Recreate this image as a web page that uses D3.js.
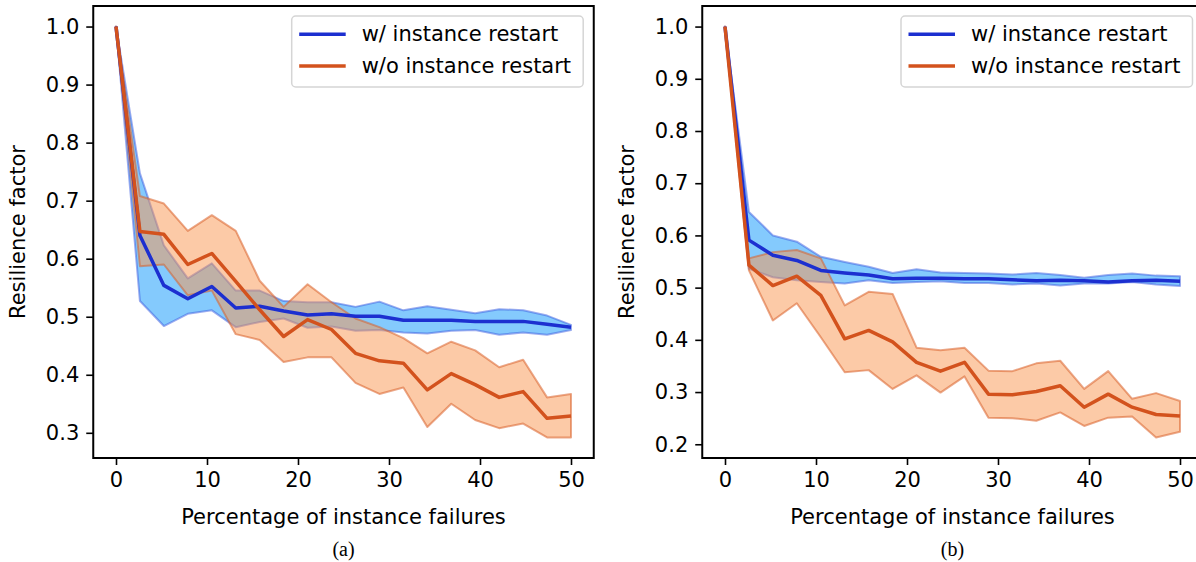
<!DOCTYPE html>
<html>
<head>
<meta charset="utf-8">
<script src="https://cdn.jsdelivr.net/npm/d3@7"></script>
<style>
  html, body { margin: 0; padding: 0; background: #fff; }
  svg { display: block; }
  text { font-family: "DejaVu Sans", sans-serif; fill: #000; }
</style>
</head>
<body>
<svg id="chart" width="1196" height="562"></svg>
<script>
// ---------- data ----------
const failurePct = [0, 2.63, 5.26, 7.89, 10.53, 13.16, 15.79, 18.42, 21.05, 23.68,
                    26.32, 28.95, 31.58, 34.21, 36.84, 39.47, 42.11, 44.74, 47.37, 50];

const seriesNames = ["w/ instance restart", "w/o instance restart"];
const xTicks = [0, 10, 20, 30, 40, 50];
const yTicksA = [0.3, 0.4, 0.5, 0.6, 0.7, 0.8, 0.9, 1.0];
const yTicksB = [0.2, 0.3, 0.4, 0.5, 0.6, 0.7, 0.8, 0.9, 1.0];
const captions = ["(a)", "(b)"];
const xLabel = "Percentage of instance failures";
const yLabel = "Resilience factor";

// panel (a)
const restartMeanA  = [1.0, 0.640, 0.554, 0.531, 0.552, 0.515, 0.518, 0.510, 0.503, 0.505, 0.501, 0.501, 0.494, 0.494, 0.494, 0.492, 0.492, 0.492, 0.487, 0.482];
const restartUpperA = [1.0, 0.747, 0.623, 0.566, 0.592, 0.545, 0.545, 0.527, 0.525, 0.525, 0.517, 0.526, 0.511, 0.518, 0.512, 0.506, 0.513, 0.511, 0.502, 0.486];
const restartLowerA = [1.0, 0.527, 0.484, 0.505, 0.511, 0.482, 0.491, 0.497, 0.481, 0.483, 0.476, 0.477, 0.473, 0.471, 0.476, 0.477, 0.469, 0.473, 0.469, 0.477];
const noRestartMeanA  = [1.0, 0.647, 0.642, 0.590, 0.609, 0.561, 0.512, 0.466, 0.495, 0.478, 0.437, 0.424, 0.420, 0.374, 0.402, 0.383, 0.361, 0.371, 0.325, 0.329];
const noRestartUpperA = [1.0, 0.708, 0.695, 0.648, 0.675, 0.648, 0.562, 0.517, 0.556, 0.525, 0.497, 0.482, 0.463, 0.437, 0.457, 0.442, 0.413, 0.426, 0.361, 0.367];
const noRestartLowerA = [1.0, 0.587, 0.590, 0.537, 0.545, 0.470, 0.460, 0.422, 0.430, 0.430, 0.386, 0.367, 0.378, 0.310, 0.350, 0.322, 0.308, 0.316, 0.292, 0.292];

// panel (b)
const restartMeanB  = [1.0, 0.591, 0.562, 0.552, 0.533, 0.528, 0.524, 0.517, 0.518, 0.518, 0.517, 0.517, 0.515, 0.513, 0.514, 0.513, 0.511, 0.513, 0.514, 0.512];
const restartUpperB = [1.0, 0.645, 0.600, 0.588, 0.559, 0.549, 0.540, 0.528, 0.535, 0.529, 0.528, 0.527, 0.525, 0.528, 0.524, 0.519, 0.524, 0.527, 0.523, 0.522];
const restartLowerB = [1.0, 0.536, 0.520, 0.514, 0.511, 0.508, 0.514, 0.509, 0.511, 0.512, 0.509, 0.509, 0.506, 0.508, 0.504, 0.508, 0.508, 0.511, 0.506, 0.503];
const noRestartMeanB  = [1.0, 0.543, 0.504, 0.522, 0.485, 0.402, 0.418, 0.396, 0.357, 0.340, 0.357, 0.296, 0.295, 0.301, 0.312, 0.271, 0.296, 0.271, 0.257, 0.254];
const noRestartUpperB = [1.0, 0.556, 0.568, 0.572, 0.556, 0.466, 0.492, 0.488, 0.385, 0.380, 0.385, 0.341, 0.340, 0.355, 0.360, 0.306, 0.340, 0.287, 0.298, 0.283];
const noRestartLowerB = [1.0, 0.533, 0.437, 0.470, 0.405, 0.338, 0.342, 0.306, 0.332, 0.299, 0.330, 0.251, 0.250, 0.245, 0.261, 0.235, 0.251, 0.253, 0.213, 0.224];

// ---------- styles ----------
const blueLine = "#1c2fd0", blueFill = "#84cafd", blueEdge = "#3a5ae0";
const orangeLine = "#d3521d", orangeFill = "rgb(250,150,80)", orangeEdge = "#d9602a";

const svg = d3.select("#chart");
const plotTop = 6, plotBottom = 458;

const panels = [
  { left: 93.25, right: 593.75, yDomain: [0.2566, 1.0354], yTicks: yTicksA, legendLeft: 291.7, caption: captions[0], yLabelX: 18,
    rMean: restartMeanA, rUp: restartUpperA, rLo: restartLowerA, nMean: noRestartMeanA, nUp: noRestartUpperA, nLo: noRestartLowerA },
  { left: 702.25, right: 1202.75, yDomain: [0.1737, 1.0394], yTicks: yTicksB, legendLeft: 901, caption: captions[1], yLabelX: 627,
    rMean: restartMeanB, rUp: restartUpperB, rLo: restartLowerB, nMean: noRestartMeanB, nUp: noRestartUpperB, nLo: noRestartLowerB }
];

panels.forEach((p, pi) => {
  const x = d3.scaleLinear().domain([-2.5, 52.5]).range([p.left, p.right]);
  const y = d3.scaleLinear().domain(p.yDomain).range([plotBottom, plotTop]);
  const g = svg.append("g");

  const clipId = "clip" + pi;
  svg.append("defs").append("clipPath").attr("id", clipId)
    .append("rect").attr("x", p.left).attr("y", plotTop).attr("width", p.right - p.left).attr("height", plotBottom - plotTop);
  const plot = g.append("g").attr("clip-path", `url(#${clipId})`);

  const idx = d3.range(failurePct.length);
  const area = (up, lo) => d3.area().x(i => x(failurePct[i])).y0(i => y(lo[i])).y1(i => y(up[i]))(idx);
  const line = (v) => d3.line().x(i => x(failurePct[i])).y(i => y(v[i]))(idx);

  // blue band
  plot.append("path").attr("d", area(p.rUp, p.rLo)).attr("fill", blueFill)
    .attr("stroke", blueEdge).attr("stroke-opacity", 0.5).attr("stroke-width", 2).attr("stroke-linejoin", "round");
  // orange band
  plot.append("path").attr("d", area(p.nUp, p.nLo)).attr("fill", orangeFill).attr("fill-opacity", 0.5)
    .attr("stroke", orangeEdge).attr("stroke-opacity", 0.55).attr("stroke-width", 2).attr("stroke-linejoin", "round");
  // mean lines
  plot.append("path").attr("d", line(p.rMean)).attr("fill", "none").attr("stroke", blueLine)
    .attr("stroke-width", 3.5).attr("stroke-linejoin", "round").attr("stroke-linecap", "butt");
  plot.append("path").attr("d", line(p.nMean)).attr("fill", "none").attr("stroke", orangeLine)
    .attr("stroke-width", 3.5).attr("stroke-linejoin", "round").attr("stroke-linecap", "butt");

  // axes
  const xAxis = d3.axisBottom(x).tickValues(xTicks).tickSize(7).tickPadding(7).tickFormat(d3.format("d"));
  const gx = g.append("g").attr("transform", `translate(0,${plotBottom})`).call(xAxis);
  const yAxis = d3.axisLeft(y).tickValues(p.yTicks).tickSize(7).tickPadding(7).tickFormat(d3.format(".1f"));
  const gy = g.append("g").attr("transform", `translate(${p.left},0)`).call(yAxis);
  [gx, gy].forEach(a => {
    a.select(".domain").remove();
    a.selectAll(".tick line").attr("stroke", "#000").attr("stroke-width", 1.6);
    a.selectAll(".tick text").attr("font-size", 21).attr("font-family", "DejaVu Sans").attr("fill", "#000");
  });

  // frame
  g.append("rect").attr("x", p.left).attr("y", plotTop).attr("width", p.right - p.left).attr("height", plotBottom - plotTop)
    .attr("fill", "none").attr("stroke", "#000").attr("stroke-width", 2);

  // labels
  g.append("text").attr("x", x(25)).attr("y", 517).attr("text-anchor", "middle")
    .attr("dominant-baseline", "central").attr("font-size", 21).text(xLabel);
  g.append("text").attr("transform", `translate(${p.yLabelX},${(plotTop + plotBottom) / 2}) rotate(-90)`)
    .attr("text-anchor", "middle").attr("dominant-baseline", "central").attr("font-size", 21).text(yLabel);
  g.append("text").attr("x", x(25)).attr("y", 549).attr("text-anchor", "middle")
    .attr("dominant-baseline", "central").attr("font-size", 20)
    .style("font-family", "'Liberation Serif', 'DejaVu Serif', serif").text(p.caption);

  // legend
  const lg = g.append("g");
  lg.append("rect").attr("x", p.legendLeft).attr("y", 16).attr("width", 291.5).attr("height", 71).attr("rx", 4)
    .attr("fill", "#fff").attr("fill-opacity", 0.8).attr("stroke", "#d5d5d5").attr("stroke-width", 1.5);
  const rows = [{ name: seriesNames[0], color: blueLine, yy: 34.3 }, { name: seriesNames[1], color: orangeLine, yy: 66 }];
  rows.forEach(r => {
    lg.append("line").attr("x1", p.legendLeft + 7.5).attr("x2", p.legendLeft + 54)
      .attr("y1", r.yy).attr("y2", r.yy).attr("stroke", r.color).attr("stroke-width", 3.5);
    lg.append("text").attr("x", p.legendLeft + 70).attr("y", r.yy).attr("dominant-baseline", "central")
      .attr("font-size", 21).text(r.name);
  });
});
</script>
</body>
</html>
